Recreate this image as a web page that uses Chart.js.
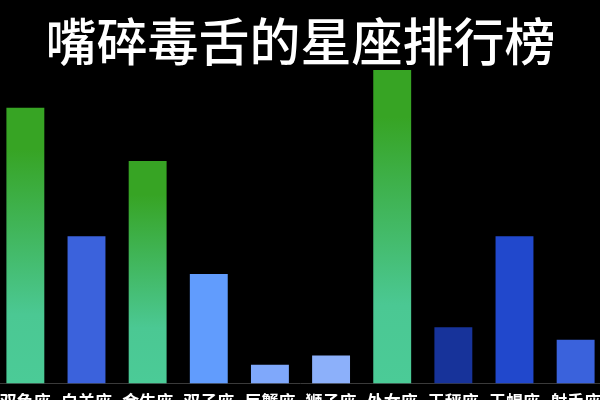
<!DOCTYPE html>
<html>
<head>
<meta charset="utf-8">
<script src="https://cdn.jsdelivr.net/npm/chart.js@4/dist/chart.umd.min.js"></script>
<style>
  html, body { margin: 0; padding: 0; background: #000; width: 600px; height: 400px; overflow: hidden; }
  #wrap { position: absolute; left: -8px; top: 0; }
</style>
</head>
<body>
<div id="wrap"><canvas id="signChart" width="617" height="420"></canvas></div>
<script>
// Chart data
const signs = ['双鱼座', '白羊座', '金牛座', '双子座', '巨蟹座', '狮子座', '处女座', '天秤座', '天蝎座', '射手座'];
const scores = [88, 47, 71, 35, 6, 9, 100, 18, 47, 14];
const barColors = ['green', '#3b62dc', 'green', '#619cfd', '#7fa8fb', '#8cb0fa', 'green', '#17339a', '#2148cc', '#3a62dc'];

document.addEventListener('DOMContentLoaded', function () {
    const ctx = document.getElementById('signChart').getContext('2d');

    // green bars get a vertical gradient from the bar top down to the base
    function barFill(context) {
        const c = barColors[context.dataIndex];
        if (c !== 'green') return c;
        const chart = context.chart;
        const yScale = chart.scales.y;
        if (!chart.chartArea || !yScale) return '#3fb35a';
        const top = yScale.getPixelForValue(scores[context.dataIndex]);
        const bottom = yScale.getPixelForValue(0);
        if (!isFinite(top) || !isFinite(bottom)) return '#3fb35a';
        const g = chart.ctx.createLinearGradient(0, top, 0, bottom);
        g.addColorStop(0, '#37a424');
        g.addColorStop(0.15, '#37a424');
        g.addColorStop(0.75, '#4bc893');
        g.addColorStop(1, '#4bcb97');
        return g;
    }

    new Chart(ctx, {
        type: 'bar',
        data: {
            labels: signs,
            datasets: [{
                data: scores,
                backgroundColor: barFill,
                borderWidth: 0,
                categoryPercentage: 1,
                barPercentage: 0.62
            }]
        },
        options: {
            responsive: false,
            animation: false,
            layout: { padding: 0 },
            scales: {
                x: {
                    grid: { display: false, drawTicks: false },
                    border: { display: true, color: '#3a3a3a', width: 1 },
                    ticks: {
                        padding: 8,
                        color: '#fff',
                        maxRotation: 0,
                        autoSkip: false,
                        font: { family: 'Noto Sans CJK SC', size: 17, weight: 'bold' }
                    }
                },
                y: {
                    display: false,
                    min: 0,
                    max: 100
                }
            },
            plugins: {
                legend: { display: false },
                tooltip: { enabled: false },
                title: {
                    display: true,
                    text: '嘴碎毒舌的星座排行榜',
                    color: '#fff',
                    padding: { top: 13, bottom: 0 },
                    font: { family: 'Noto Sans CJK SC', size: 51, weight: '500', lineHeight: 1.12 }
                }
            }
        }
    });
});
</script>
</body>
</html>
